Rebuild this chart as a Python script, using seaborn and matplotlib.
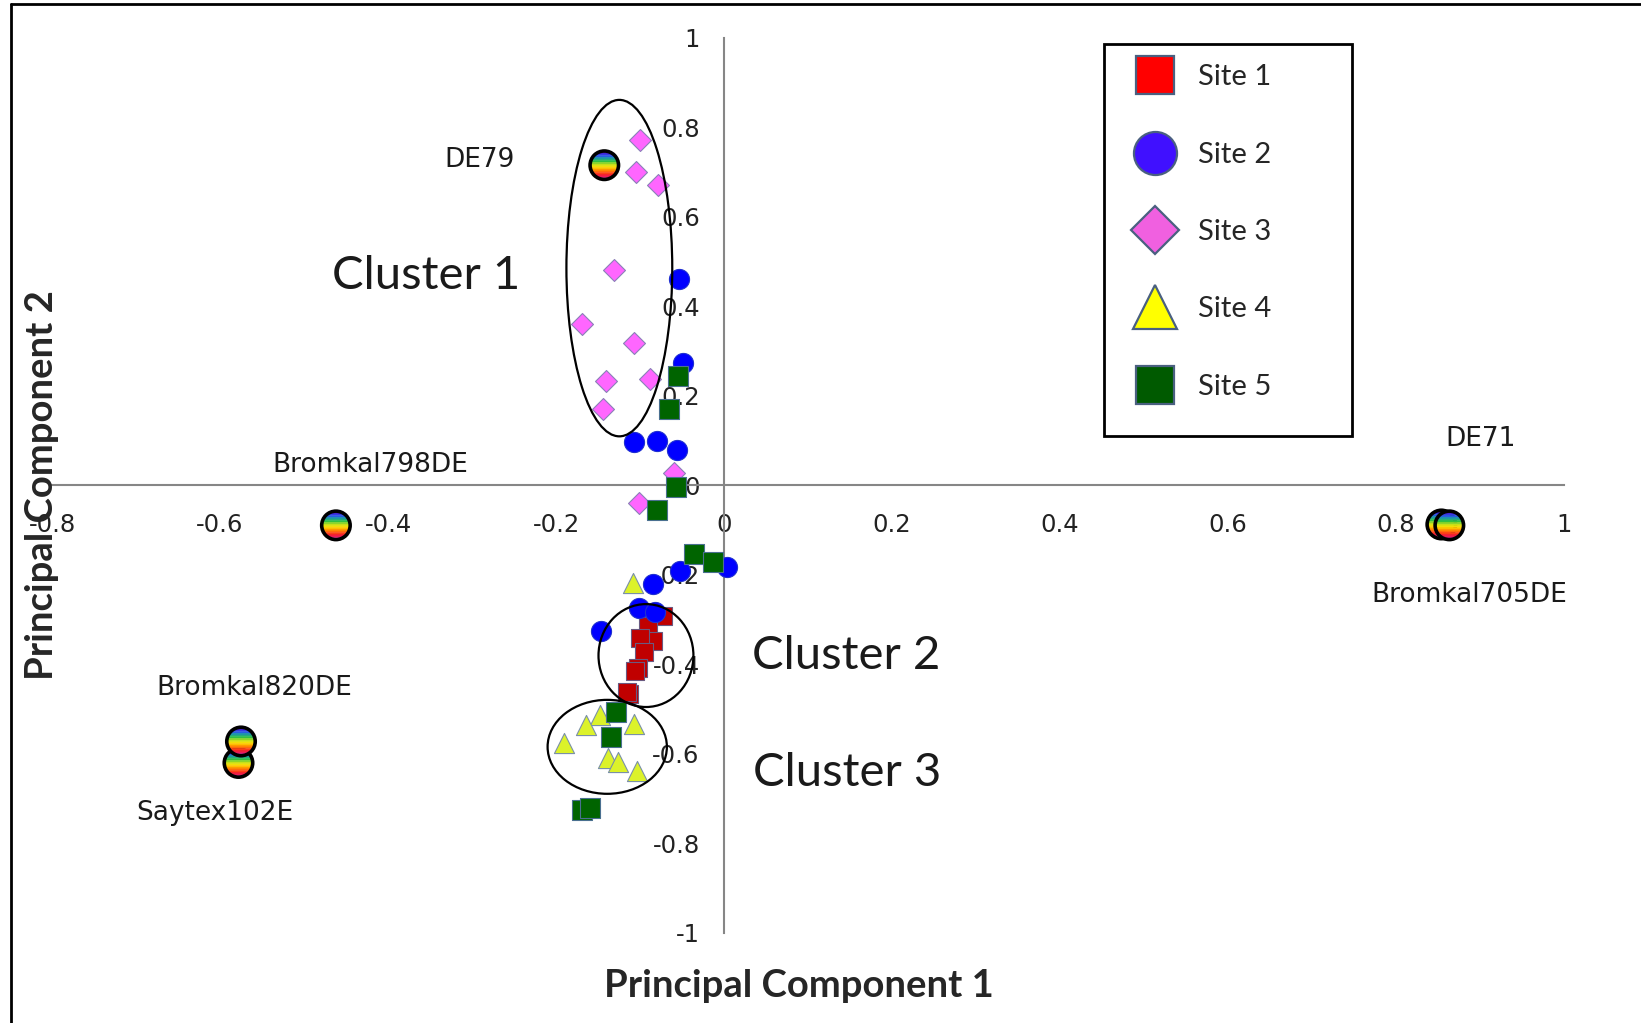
import numpy as np
import matplotlib
matplotlib.use("Agg")
import matplotlib.pyplot as plt
import seaborn as sns
from matplotlib.path import Path
from matplotlib.patches import Ellipse, Rectangle
from matplotlib.lines import Line2D
from matplotlib.colors import LinearSegmentedColormap

# 各站点的主成分得分
site1_x = [-0.073, -0.090, -0.084, -0.100, -0.095, -0.102, -0.106, -0.113, -0.116]
site1_y = [-0.292, -0.314, -0.349, -0.342, -0.372, -0.409, -0.416, -0.468, -0.463]

site2_x = [-0.054, -0.049, -0.107, -0.080, -0.056, 0.003, -0.052, -0.084, -0.101, -0.082, -0.146]
site2_y = [0.4615, 0.274, 0.096, 0.098, 0.078, -0.184, -0.193, -0.221, -0.2745, -0.284, -0.327]

site3_x = [-0.100, -0.105, -0.079, -0.131, -0.169, -0.107, -0.141, -0.088, -0.144, -0.060, -0.101]
site3_y = [0.771, 0.700, 0.670, 0.481, 0.361, 0.318, 0.232, 0.238, 0.169, 0.0275, -0.040]

site4_x = [-0.108, -0.148, -0.164, -0.107, -0.191, -0.138, -0.126, -0.104]
site4_y = [-0.219, -0.513, -0.536, -0.534, -0.577, -0.609, -0.620, -0.638]

site5_x = [-0.055, -0.066, -0.0575, -0.080, -0.0357, -0.0135, -0.128, -0.134, -0.169, -0.160]
site5_y = [0.2437, 0.169, -0.005, -0.056, -0.154, -0.172, -0.508, -0.562, -0.726, -0.722]

# 参比工业品
ref_names = ["DE79", "Bromkal798DE", "DE71", "Bromkal705DE", "Saytex102E", "Bromkal820DE"]
ref_x = [-0.1425, -0.462, 0.854, 0.8635, -0.578, -0.575]
ref_y = [0.715, -0.090, -0.088, -0.090, -0.621, -0.573]

# 标注文字位置
label_text = ["DE79", "Bromkal798DE", "DE71", "Bromkal705DE", "Bromkal820DE", "Saytex102E"]
label_x = [-0.2905, -0.4208, 0.901, 0.8875, -0.5595, -0.6065]
label_y = [0.726, 0.046, 0.102, -0.246, -0.454, -0.7325]

cluster_names = ["Cluster 1", "Cluster 2", "Cluster 3"]
cluster_text_x = [-0.3548, 0.146, 0.146]
cluster_text_y = [0.4667, -0.383, -0.644]
cluster_cx = [-0.1246, -0.0929, -0.139]
cluster_cy = [0.485, -0.381, -0.585]
cluster_w = [0.126, 0.113, 0.142]
cluster_h = [0.752, 0.230, 0.210]

x_ticks = [-0.8, -0.6, -0.4, -0.2, 0, 0.2, 0.4, 0.6, 0.8, 1]
x_tick_labels = ["-0.8", "-0.6", "-0.4", "-0.2", "0", "0.2", "0.4", "0.6", "0.8", "1"]
y_ticks = [-1, -0.8, -0.6, -0.4, -0.2, 0, 0.2, 0.4, 0.6, 0.8, 1]
y_tick_labels = ["-1", "-0.8", "-0.6", "-0.4", "-0.2", "0", "0.2", "0.4", "0.6", "0.8", "1"]

sns.set_style("white")
plt.rcParams["font.family"] = ["DejaVu Sans"]

W, H = 1641, 1023
fig = plt.figure(figsize=(W / 100, H / 100), dpi=100)
ax = fig.add_axes([52 / W, 1 - 932.5 / H, (1564 - 52) / W, (932.5 - 37.7) / H])
ax.set_xlim(-0.8, 1)
ax.set_ylim(-1, 1)

# 坐标轴交叉于原点（Excel 风格）
axis_gray = "#868686"
ax.spines["left"].set_position(("data", 0))
ax.spines["bottom"].set_position(("data", 0))
ax.spines["top"].set_visible(False)
ax.spines["right"].set_visible(False)
for s in ["left", "bottom"]:
    ax.spines[s].set_color(axis_gray)
    ax.spines[s].set_linewidth(1.5)
ax.set_xticks(x_ticks)
ax.set_xticklabels(x_tick_labels)
ax.set_yticks(y_ticks)
ax.set_yticklabels(y_tick_labels)
ax.tick_params(axis="x", direction="out", length=5.5, width=1.5, color=axis_gray,
               labelsize=17.5, pad=14.5, labelcolor="#222222")
ax.tick_params(axis="y", direction="out", length=7.5, width=1.5, color=axis_gray,
               labelsize=17.5, pad=10, labelcolor="#222222")

# 各站点散点
sites = [
    (site1_x, site1_y, "s", 180, "#c00000", "#6a5a80"),
    (site2_x, site2_y, "o", 210, "#0000ff", "#2030d0"),
    (site3_x, site3_y, "D", 125, "#ff66ff", "#8a80b8"),
    (site4_x, site4_y, "^", 210, "#dcf22a", "#7a90a8"),
    (site5_x, site5_y, "s", 190, "#006400", "#4a7090"),
]
for xs, ys, mk, sz, fc, ec in sites:
    sns.scatterplot(x=xs, y=ys, marker=mk, s=sz, color=fc, edgecolor=ec,
                    linewidth=0.8, ax=ax, zorder=3, legend=False)

# 彩虹渐变圆点（参比品）
rain_cmap = LinearSegmentedColormap.from_list(
    "rain", ["#4a1ad0", "#2a4cf0", "#1aa0a0", "#30c040", "#b8e020",
             "#ffe000", "#ff9a00", "#ff4a10", "#f01838", "#e0208c"])


def band_marker(y0, y1, n=24):
    ys = np.linspace(y0, y1, n)
    xr = np.sqrt(np.clip(1 - ys ** 2, 0, None))
    verts = np.vstack([np.column_stack([xr, ys]),
                       np.column_stack([-xr[::-1], ys[::-1]]),
                       [[xr[0], ys[0]], [0, 1]]])
    codes = [Path.MOVETO] + [Path.LINETO] * (2 * n - 1) + [Path.CLOSEPOLY, Path.MOVETO]
    return Path(verts, codes)


n_bands = 16
band_edges = np.linspace(1, -1, n_bands + 1)
z = 4
for px, py in zip(ref_x, ref_y):
    for i in range(n_bands):
        m = band_marker(max(band_edges[i + 1] - 0.03, -1), band_edges[i])
        ax.scatter([px], [py], marker=m, s=380, color=rain_cmap(i / (n_bands - 1)),
                   linewidths=0, zorder=z)
    ax.scatter([px], [py], marker="o", s=420, facecolors="none", edgecolors="black",
               linewidths=2.6, zorder=z + 0.5)
    z += 1

# 聚类椭圆
for cx, cy, w, h in zip(cluster_cx, cluster_cy, cluster_w, cluster_h):
    ax.add_patch(Ellipse((cx, cy), w, h, fill=False, edgecolor="black", linewidth=1.6, zorder=20))

for t, x, y in zip(label_text, label_x, label_y):
    ax.text(x, y, t, fontsize=19, ha="center", va="center", color="#1a1a1a", zorder=21)
for t, x, y in zip(cluster_names, cluster_text_x, cluster_text_y):
    ax.text(x, y, t, fontsize=34, family=["Lato", "DejaVu Sans"], ha="center", va="center",
            color="#1a1a1a", zorder=21)

fig.text(798.5 / W, 1 - 986 / H, "Principal Component 1", fontsize=27.5, fontweight="bold",
         family=["Lato", "DejaVu Sans"], ha="center", va="center")
fig.text(42 / W, 1 - 485 / H, "Principal Component 2", fontsize=27.5, fontweight="bold",
         family=["Lato", "DejaVu Sans"], ha="center", va="center", rotation=90, zorder=30)

# 图例
legend_colors = ["#ff0000", "#4010ff", "#f060e0", "#ffff00", "#005a00"]
legend_markers = ["s", "o", "D", "^", "s"]
legend_sizes = [27, 31, 24, 31, 27]
handles = [Line2D([], [], linestyle="none", marker=mk, markersize=ms, markerfacecolor=c,
                  markeredgecolor="#4a6080", markeredgewidth=1.6)
           for mk, ms, c in zip(legend_markers, legend_sizes, legend_colors)]
leg = fig.legend(handles, ["Site 1", "Site 2", "Site 3", "Site 4", "Site 5"],
                 loc="upper left", bbox_to_anchor=(1137.6 / W, 1 - 64.5 / H),
                 frameon=False, borderpad=0, borderaxespad=0, handlelength=1.2,
                 handletextpad=0.88, labelspacing=1.76, prop={"family": "Lato", "size": 21})
fig.add_artist(Rectangle((1104 / W, 1 - 436 / H), (1352 - 1104) / W, (436 - 44) / H,
                         transform=fig.transFigure, fill=False, edgecolor="black", linewidth=2))

# 外框（上、左）
fig.add_artist(Line2D([10.5 / W, 10.5 / W], [0, 1 - 4 / H], transform=fig.transFigure,
                      color="black", linewidth=2))
fig.add_artist(Line2D([10.5 / W, 1], [1 - 4 / H, 1 - 4 / H], transform=fig.transFigure,
                      color="black", linewidth=2))

fig.savefig("out.png", dpi=100)
